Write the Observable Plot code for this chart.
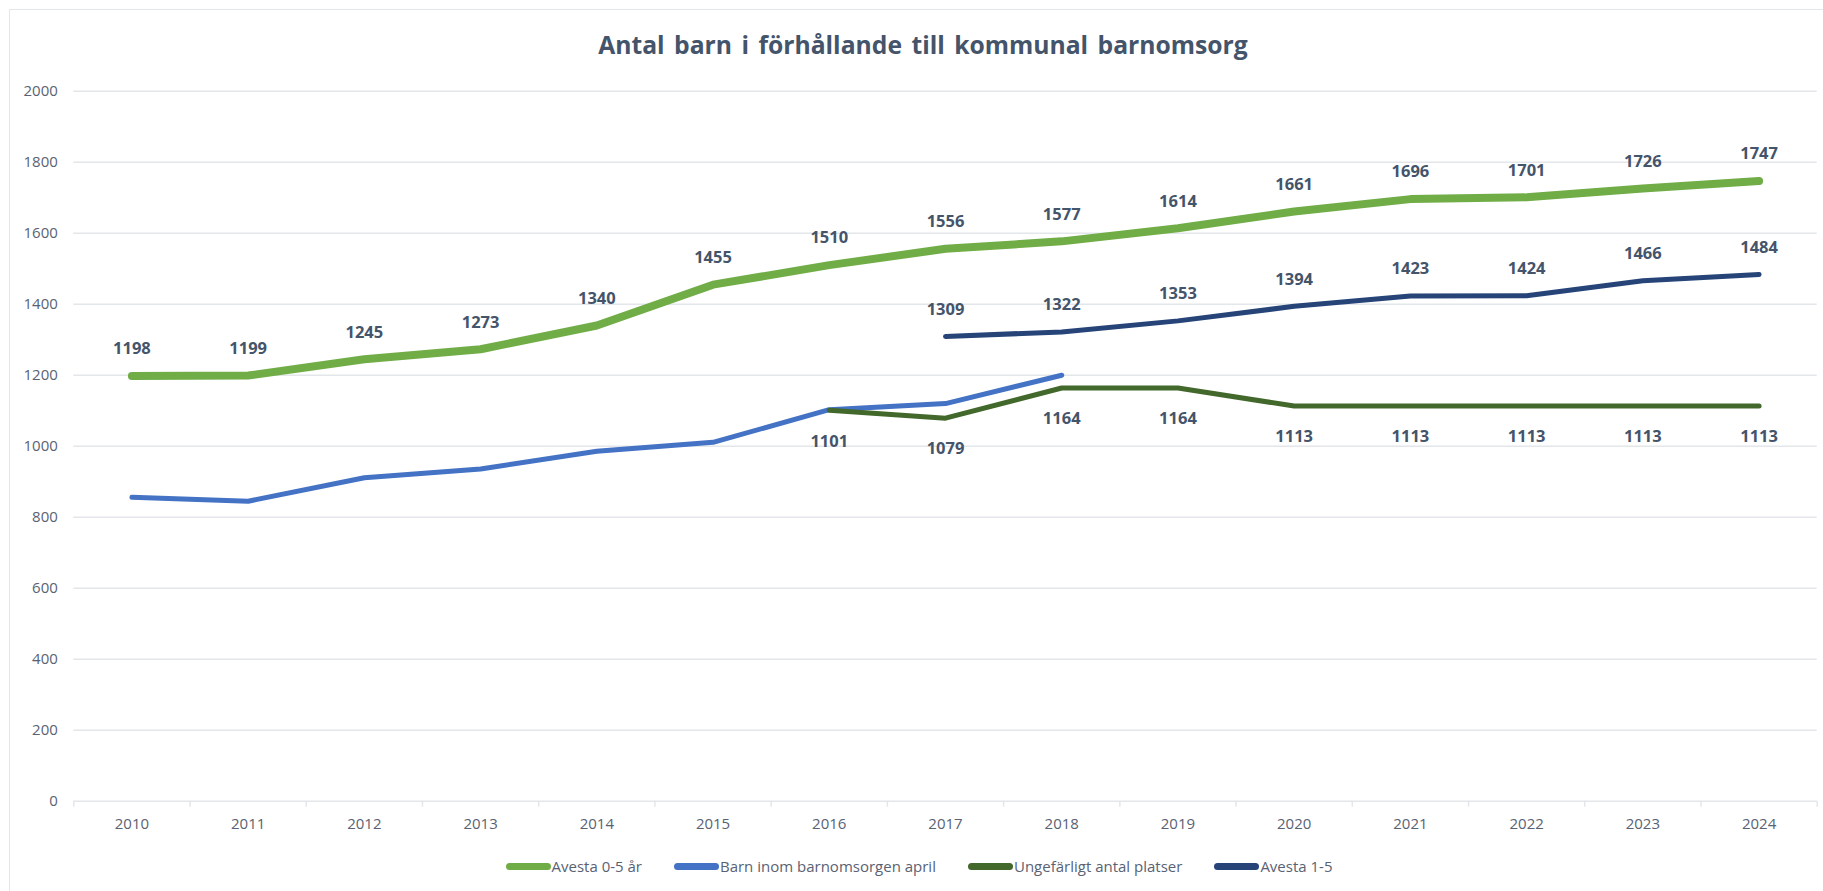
<!DOCTYPE html>
<html>
<head>
<meta charset="utf-8">
<script src="https://cdn.jsdelivr.net/npm/d3@7"></script>
<script src="https://cdn.jsdelivr.net/npm/@observablehq/plot@0.6"></script>
<style>
  body { margin: 0; background: #fff; font-family: "Open Sans", sans-serif; }
  #wrap { position: relative; width: 1823px; height: 891px; overflow: hidden; background: #fff; }
  #frame { position: absolute; left: 9px; top: 9px; width: 1830px; height: 900px; border: 1.5px solid #e3e6ea; box-sizing: border-box; }
  #title { position: absolute; left: 0; top: 29px; width: 1846px; text-align: center; font-weight: 700; font-size: 24.7px; line-height: 32px; color: #44546A; word-spacing: 3px; }
  #chart { position: absolute; left: 0; top: 0; }
  #legend { position: absolute; left: 0; top: 856px; width: 1838px; display: flex; justify-content: center; font-size: 15px; line-height: 20px; color: #596273; }
  .item { display: flex; align-items: center; margin: 0 16px; }
  .sw { width: 45px; height: 7px; border-radius: 4px; margin-right: 1px; }
</style>
</head>
<body>
<div id="wrap">
  <div id="frame"></div>
  <div id="chart"></div>
  <div id="title">Antal barn i förhållande till kommunal barnomsorg</div>
  <div id="legend"></div>
</div>
<script>
// ---- data ----
const years = [2010, 2011, 2012, 2013, 2014, 2015, 2016, 2017, 2018, 2019, 2020, 2021, 2022, 2023, 2024];
const yTicks = [0, 200, 400, 600, 800, 1000, 1200, 1400, 1600, 1800, 2000];

const seriesNames = ["Avesta 0-5 år", "Barn inom barnomsorgen april", "Ungefärligt antal platser", "Avesta 1-5"];
const seriesColors = ["#70AD47", "#4472C4", "#43682B", "#264478"];

const avesta05Years = [2010, 2011, 2012, 2013, 2014, 2015, 2016, 2017, 2018, 2019, 2020, 2021, 2022, 2023, 2024];
const avesta05 = [1198, 1199, 1245, 1273, 1340, 1455, 1510, 1556, 1577, 1614, 1661, 1696, 1701, 1726, 1747];

const barnAprilYears = [2010, 2011, 2012, 2013, 2014, 2015, 2016, 2017, 2018];
const barnApril = [856, 845, 911, 936, 986, 1011, 1103, 1120, 1200];

const platserYears = [2016, 2017, 2018, 2019, 2020, 2021, 2022, 2023, 2024];
const platser = [1101, 1079, 1164, 1164, 1113, 1113, 1113, 1113, 1113];

const avesta15Years = [2017, 2018, 2019, 2020, 2021, 2022, 2023, 2024];
const avesta15 = [1309, 1322, 1353, 1394, 1423, 1424, 1466, 1484];

// ---- build tables ----
const toRows = (ys, vs) => ys.map((y, i) => ({year: y, value: vs[i]}));
const rowsA05 = toRows(avesta05Years, avesta05);
const rowsBarn = toRows(barnAprilYears, barnApril);
const rowsPl = toRows(platserYears, platser);
const rowsA15 = toRows(avesta15Years, avesta15);
const edges = years.map(y => y - 0.5).concat([years[years.length - 1] + 0.5]);

const labelColor = "#44546A";
const axisColor = "#596273";
const gridColor = "#e3e6ea";

const plot = Plot.plot({
  width: 1823,
  height: 840,
  marginTop: 90.7,
  marginBottom: 39.3,
  marginLeft: 73.3,
  marginRight: 6.3,
  style: {fontFamily: "'Open Sans', sans-serif", background: "transparent", overflow: "visible"},
  x: {type: "linear", domain: [edges[0], edges[edges.length - 1]], label: null},
  y: {domain: [0, 2000], label: null},
  marks: [
    Plot.ruleY(yTicks, {stroke: gridColor, strokeWidth: 1.5}),
    Plot.axisY(yTicks, {tickSize: 0, tickPadding: 16, fontSize: 15, fill: axisColor, tickFormat: d => String(d)}),
    Plot.axisX(edges, {tickSize: 6, stroke: gridColor, strokeWidth: 1.5, tickFormat: () => ""}),
    Plot.axisX(years, {tickSize: 0, tickPadding: 17, fontSize: 15, fill: axisColor, tickFormat: d => String(d)}),
    Plot.line(rowsA05, {x: "year", y: "value", stroke: seriesColors[0], strokeWidth: 8, strokeLinecap: "round", strokeLinejoin: "round"}),
    Plot.line(rowsBarn, {x: "year", y: "value", stroke: seriesColors[1], strokeWidth: 5, strokeLinecap: "round", strokeLinejoin: "round"}),
    Plot.line(rowsPl, {x: "year", y: "value", stroke: seriesColors[2], strokeWidth: 5, strokeLinecap: "round", strokeLinejoin: "round"}),
    Plot.line(rowsA15, {x: "year", y: "value", stroke: seriesColors[3], strokeWidth: 5, strokeLinecap: "round", strokeLinejoin: "round"}),
    Plot.text(rowsA05, {x: "year", y: "value", text: d => String(d.value), dy: -27, fontSize: 16.5, fontWeight: "bold", fill: labelColor}),
    Plot.text(rowsA15, {x: "year", y: "value", text: d => String(d.value), dy: -27, fontSize: 16.5, fontWeight: "bold", fill: labelColor}),
    Plot.text(rowsPl, {x: "year", y: "value", text: d => String(d.value), dy: 31, fontSize: 16.5, fontWeight: "bold", fill: labelColor})
  ]
});
document.getElementById("chart").appendChild(plot);

// ---- legend ----
const legend = document.getElementById("legend");
seriesNames.forEach((name, i) => {
  const item = document.createElement("div");
  item.className = "item";
  const sw = document.createElement("div");
  sw.className = "sw";
  sw.style.background = seriesColors[i];
  const tx = document.createElement("span");
  tx.textContent = name;
  item.appendChild(sw);
  item.appendChild(tx);
  legend.appendChild(item);
});
</script>
</body>
</html>
